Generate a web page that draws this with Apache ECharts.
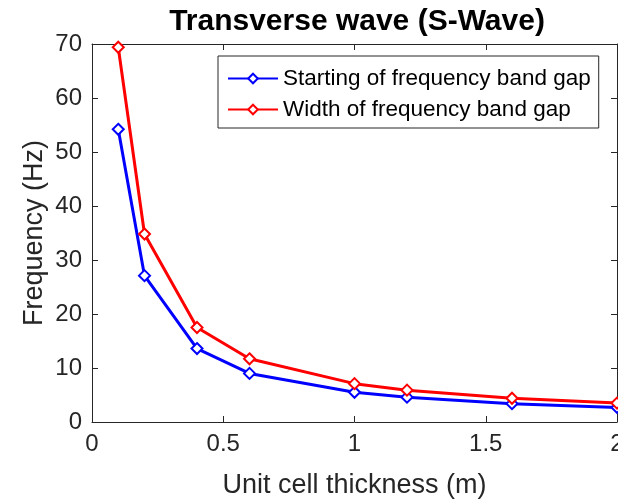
<!DOCTYPE html>
<html>
<head>
<meta charset="utf-8">
<script src="https://cdn.jsdelivr.net/npm/echarts@6/dist/echarts.min.js"></script>
<style>
  html, body { margin: 0; padding: 0; background: #fff; }
  #chart { width: 618px; height: 499px; }
</style>
</head>
<body>
<div id="chart"></div>
<script>
// Unit cell thickness (m)
const thickness = [0.1, 0.2, 0.4, 0.6, 1.0, 1.2, 1.6, 2.0];
// Starting frequency of the band gap (Hz)
const startFreq = [54.2, 27.1, 13.6, 9.0, 5.5, 4.6, 3.4, 2.7];
// Width of the band gap (Hz)
const widthFreq = [69.4, 34.8, 17.5, 11.7, 7.1, 5.9, 4.4, 3.5];

const xTicks = { min: 0, max: 2, interval: 0.5 };
const yTicks = { min: 0, max: 70, interval: 10 };

const axisColor = '#262626';
const fontFamily = 'Liberation Sans, Arial, Helvetica, sans-serif';

const pairs = (xs, ys) => xs.map((x, i) => [x, ys[i]]);

const boxAxis = (extra) => Object.assign({
  type: 'value',
  axisLine: { show: true, onZero: false, lineStyle: { color: axisColor, width: 1 } },
  axisTick: { show: true, inside: true, length: 6, lineStyle: { color: axisColor } },
  splitLine: { show: false }
}, extra);

const chart = echarts.init(document.getElementById('chart'), null, { renderer: 'canvas' });

chart.setOption({
  animation: false,
  backgroundColor: '#ffffff',
  textStyle: { fontFamily: fontFamily },
  title: {
    text: 'Transverse wave (S-Wave)',
    left: 352,
    top: 2,
    textAlign: 'center',
    textStyle: { fontFamily: fontFamily, fontWeight: 'bold', fontSize: 30, color: '#000' }
  },
  grid: { left: 92, right: 1, top: 44, bottom: 77, outerBoundsMode: 'none', containLabel: false },
  legend: {
    orient: 'vertical',
    left: 218,
    top: 56,
    padding: [9, 8, 5, 9],
    itemGap: 4,
    itemWidth: 50,
    itemHeight: 12,
    backgroundColor: '#ffffff',
    borderColor: axisColor,
    borderWidth: 1,
    borderRadius: 0,
    textStyle: { fontFamily: fontFamily, fontSize: 22.5, color: '#000', lineHeight: 27 },
    data: ['Starting of frequency band gap', 'Width of frequency band gap']
  },
  xAxis: [
    boxAxis({
      min: xTicks.min, max: xTicks.max, interval: xTicks.interval,
      position: 'bottom',
      name: 'Unit cell thickness (m)',
      nameLocation: 'middle',
      nameGap: 50,
      nameMoveOverlap: false,
      nameTextStyle: { fontFamily: fontFamily, fontSize: 27, color: axisColor },
      axisLabel: {
        margin: 10, fontSize: 24, color: axisColor, fontFamily: fontFamily,
        formatter: (v) => String(v)
      }
    }),
    boxAxis({
      min: xTicks.min, max: xTicks.max, interval: xTicks.interval,
      position: 'top',
      axisLabel: { show: false }
    })
  ],
  yAxis: [
    boxAxis({
      min: yTicks.min, max: yTicks.max, interval: yTicks.interval,
      position: 'left',
      name: 'Frequency (Hz)',
      nameLocation: 'middle',
      nameGap: 44,
      nameMoveOverlap: false,
      nameTextStyle: { fontFamily: fontFamily, fontSize: 27, color: axisColor },
      axisLabel: { margin: 10, fontSize: 24, color: axisColor, fontFamily: fontFamily }
    }),
    boxAxis({
      min: yTicks.min, max: yTicks.max, interval: yTicks.interval,
      position: 'right',
      axisLabel: { show: false }
    })
  ],
  series: [
    {
      name: 'Starting of frequency band gap',
      type: 'line',
      xAxisIndex: 0,
      yAxisIndex: 0,
      data: pairs(thickness, startFreq),
      symbol: 'emptyDiamond',
      symbolSize: 11,
      color: '#0000ff',
      lineStyle: { color: '#0000ff', width: 3 },
      itemStyle: { color: '#0000ff', borderColor: '#0000ff', borderWidth: 2.5 },
      clip: false,
      z: 2
    },
    {
      name: 'Width of frequency band gap',
      type: 'line',
      xAxisIndex: 0,
      yAxisIndex: 0,
      data: pairs(thickness, widthFreq),
      symbol: 'emptyDiamond',
      symbolSize: 11,
      color: '#ff0000',
      lineStyle: { color: '#ff0000', width: 3 },
      itemStyle: { color: '#ff0000', borderColor: '#ff0000', borderWidth: 2.5 },
      clip: false,
      z: 3
    }
  ]
});
</script>
</body>
</html>
